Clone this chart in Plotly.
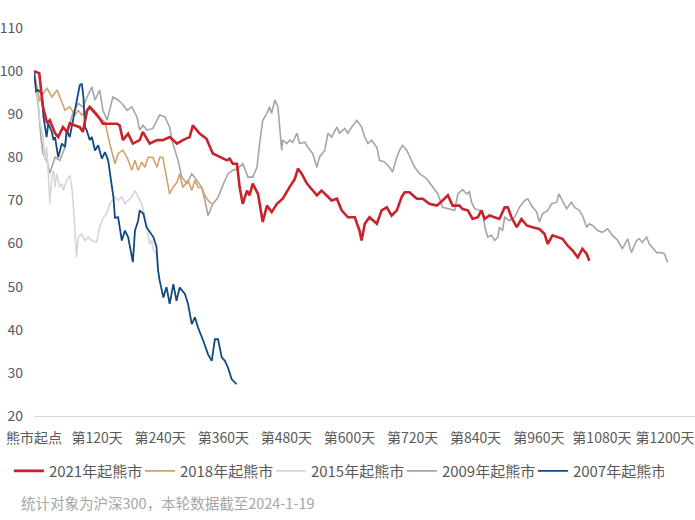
import plotly.graph_objects as go

# day index since the start of each bear market, and the rebased CSI 300 level (start = 100)
days_2021 = [0, 10, 17, 25, 30, 40, 46, 55, 63, 68, 78, 87, 93, 101, 106, 116, 125, 131, 144, 158,
             163, 169, 179, 188, 201, 207, 220, 234, 245, 258, 272, 283, 296, 302, 315, 328, 340, 353, 367, 372,
             378, 386, 391, 397, 405, 410, 416, 426, 435, 443, 452, 462, 473, 486, 496, 502, 509, 519, 528, 538,
             547, 557, 566, 576, 585, 597, 610, 619, 623, 629, 638, 652, 661, 671, 680, 690, 699, 705, 714, 728,
             739, 752, 766, 777, 787, 796, 809, 815, 825, 834, 844, 851, 857, 866, 876, 885, 895, 901, 908, 918,
             927, 937, 948, 961, 971, 977, 986, 996, 1005, 1015, 1024, 1034, 1043, 1051, 1056]
vals_2021 = [100, 99.5, 91.7, 87.9, 88.6, 85.6, 84.7, 87, 85.9, 87.9, 87.4, 87, 85.9, 90.9, 91.7, 90.2, 89, 87.8, 87.8, 87.8,
             87.4, 84, 85.5, 83.2, 84, 85.9, 83.2, 84, 84, 84.7, 83.2, 84, 84.7, 87.4, 85.5, 84.3, 80.9, 80.1, 79.3, 79.7,
             78.5, 78.5, 73.1, 69.2, 72.3, 71.2, 73.9, 71.5, 65, 68.8, 67.3, 69.2, 70.4, 73.1, 75, 77.4, 76.2, 73.9, 72.7, 71.2,
             72.3, 71.2, 70, 70.4, 67.7, 66.1, 66.1, 63, 60.7, 64.6, 66.1, 64.6, 67.7, 68.4, 66.5, 67.7, 70.8, 71.9, 71.9, 70.4,
             70.4, 69.2, 68.8, 70, 71.2, 68.8, 68.8, 68, 67.7, 65.7, 66.1, 67.7, 65.7, 66.5, 66.1, 65.7, 68.4, 68.4, 66.1, 63.8,
             65.7, 64.2, 63.8, 63.4, 62.2, 59.9, 61.9, 61.5, 61.1, 59.5, 58.4, 56.8, 58.8, 57.6, 56]

days_2018 = [0, 11, 17, 25, 34, 44, 49, 59, 68, 78, 84, 91, 101, 110, 120, 125, 135, 139, 144, 154,
             160, 169, 177, 186, 192, 198, 205, 211, 217, 226, 234, 239, 245, 253, 258, 264, 272, 277, 283, 293,
             300, 306, 312, 319, 325, 331, 338]
vals_2018 = [100, 93, 94.8, 96, 94, 95.6, 94, 90.9, 91.7, 89.8, 90.9, 89.8, 90.9, 91.4, 90.2, 89, 88.2, 85.9, 83.2, 78.5,
             80.9, 81.6, 80, 77, 79.3, 77, 78.9, 77.7, 80, 80, 77.7, 80, 80, 74.7, 71.5, 73, 74.2, 76.2, 73, 74.7,
             72.3, 74.7, 73, 73, 71.2, 70, 69.2]

days_2015 = [0, 8, 11, 18, 21, 24, 27, 30, 34, 37, 40, 43, 49, 53, 56, 62, 68, 72, 75, 78,
             81, 84, 91, 97, 103, 110, 119, 125, 132, 138, 144, 154, 160, 167, 173, 179, 186, 192, 198, 205,
             211, 217, 220, 224, 227, 233, 236]
vals_2015 = [100, 93.3, 88.6, 84, 79.3, 82.4, 77, 69.2, 75.4, 77, 73.1, 76.2, 73.1, 73.9, 72.3, 74.6, 75.8, 73.1, 68.4, 61.5,
             56.8, 61.5, 62.2, 60.7, 61.5, 60.7, 60.3, 63.8, 66.1, 66.9, 69.2, 70.8, 70, 70.8, 69.2, 70, 70.8, 72.3, 70.8, 69.2,
             66.1, 62.2, 59.9, 60.7, 58.4, 57.6, 53.7]

days_2009 = [0, 8, 13, 17, 25, 30, 40, 49, 59, 63, 68, 74, 84, 93, 101, 110, 116, 125, 131, 139,
             150, 160, 167, 177, 186, 196, 201, 207, 215, 226, 239, 249, 258, 264, 274, 281, 291, 300, 310, 319,
             325, 331, 340, 350, 359, 369, 378, 388, 397, 407, 416, 424, 429, 435, 443, 448, 452, 458, 464, 467,
             471, 473, 481, 486, 492, 500, 505, 515, 521, 530, 538, 543, 553, 559, 566, 576, 581, 591, 597, 604,
             614, 623, 629, 635, 642, 652, 657, 667, 676, 682, 690, 695, 701, 709, 718, 724, 733, 743, 749, 758,
             768, 777, 790, 800, 806, 815, 823, 828, 832, 838, 847, 853, 859, 863, 870, 876, 882, 885, 891, 895,
             904, 914, 923, 933, 939, 946, 956, 961, 967, 977, 984, 994, 998, 1005, 1013, 1022, 1028, 1037, 1043, 1051,
             1056, 1062, 1072, 1081, 1091, 1100, 1110, 1119, 1129, 1136, 1146, 1151, 1157, 1165, 1170, 1176, 1184, 1193, 1199, 1205]
vals_2009 = [100, 92, 85, 81, 79, 76.3, 80, 79.3, 82.3, 85.6, 87.8, 90.2, 92.5, 91.7, 94, 96.3, 93.3, 95.6, 90.9, 88.6,
             94, 93.3, 92.5, 90.9, 91.7, 89.3, 86.3, 87.4, 86.3, 86.7, 89.8, 89.4, 87, 83.2, 79.3, 75.4, 73.9, 76.2, 74.6, 73,
             70, 66.5, 69.2, 70.7, 73.5, 76.2, 77, 77.4, 78.5, 75.4, 75.4, 77.7, 83.2, 88.6, 90.2, 91.7, 90.2, 93.3, 91.7, 86.3,
             81.6, 84, 83.2, 84, 83.5, 85.6, 83.2, 83.5, 82.3, 80.9, 77.7, 80.1, 81.6, 85.6, 84.7, 87, 85.6, 86.7, 85.6, 87,
             88.6, 87, 84.7, 83.2, 84, 82.3, 79.3, 78.9, 77.7, 76.6, 80.1, 81.6, 82.8, 81.6, 79.3, 77.7, 76.2, 75.4, 74.7, 73.1,
             71.5, 68.4, 68.1, 67.7, 71.5, 72.5, 71.5, 72, 69.6, 68.1, 67.7, 66.9, 63, 61.5, 61.9, 60.7, 61.5, 63.8, 63, 66.1,
             65.3, 66.1, 68.4, 70, 70.4, 68.8, 67.3, 65, 66.9, 67.7, 69.2, 69.6, 71.5, 70, 68.1, 69.6, 68.4, 67.7, 66.5, 63.8,
             64.6, 64.2, 63, 62.6, 63.4, 61.9, 60.7, 58.8, 61.1, 57.9, 60.7, 61.1, 60.3, 61.5, 59.9, 59.1, 57.9, 57.9, 57.6, 55.6]

days_2007 = [0, 4, 8, 15, 18, 21, 24, 27, 34, 37, 40, 46, 53, 59, 62, 68, 75, 81, 87, 91,
             94, 97, 100, 106, 110, 116, 122, 129, 135, 141, 148, 151, 154, 160, 167, 173, 179, 188, 192, 198,
             201, 208, 214, 220, 227, 233, 236, 239, 246, 252, 258, 265, 271, 277, 287, 293, 300, 306, 312, 322,
             331, 338, 344, 350, 357, 363, 369, 376, 385]
vals_2007 = [100, 95.3, 95.6, 94.8, 89.4, 87, 84.7, 87.8, 85.9, 84, 84.7, 80, 83.2, 82.4, 86.3, 84.7, 89.4, 92.5, 96.7, 97.1,
             94, 87, 86.3, 84, 84.7, 81.6, 82.8, 79.7, 81.2, 79.3, 73.9, 70.8, 66, 66.1, 60.7, 63, 61.5, 55.7, 63, 65.3,
             67.7, 66.9, 63.8, 62.6, 61.5, 59.2, 53.7, 51.4, 47.5, 49.9, 46, 50.6, 46.7, 49.8, 48.3, 46, 41.3, 42.9, 40.5, 37.4,
             34.3, 32.8, 37.8, 37.8, 33.6, 32.8, 31.2, 28.5, 27.4]

tick_days = [0, 120, 240, 360, 480, 600, 720, 840, 960, 1080, 1200]
tick_text = ["熊市起点", "第120天", "第240天", "第360天", "第480天", "第600天",
             "第720天", "第840天", "第960天", "第1080天", "第1200天"]

FONT = "Noto Sans CJK SC, Noto Sans, sans-serif"

# drawing order (red on top); legend order via legendrank
series = [
    ("2009年起熊市", days_2009, vals_2009, "#A5A5A5", 1.6, 4),
    ("2015年起熊市", days_2015, vals_2015, "#D6D6D6", 1.6, 3),
    ("2018年起熊市", days_2018, vals_2018, "#D2A26E", 1.6, 2),
    ("2007年起熊市", days_2007, vals_2007, "#124A80", 1.8, 5),
    ("2021年起熊市", days_2021, vals_2021, "#C8232C", 2.6, 1),
]

fig = go.Figure()
for name, d, v, color, width, rank in series:
    fig.add_trace(go.Scatter(
        x=d, y=v, mode="lines", name=name,
        line=dict(color=color, width=width),
        legendrank=rank,
    ))

fig.update_layout(
    template="none",
    width=695, height=520,
    margin=dict(l=34, r=0, t=28, b=104),
    paper_bgcolor="white", plot_bgcolor="white",
    font=dict(family=FONT, size=15, color="#595959"),
    showlegend=True,
    legend=dict(
        orientation="h", x=-0.038, xanchor="left", y=-0.142, yanchor="middle",
        entrywidth=86, entrywidthmode="pixels",
        font=dict(size=15, color="#595959"),
        traceorder="normal",
    ),
    xaxis=dict(
        range=[0, 1257], tickvals=tick_days, ticktext=tick_text, tickangle=0,
        showgrid=False, zeroline=False, showline=True, linecolor="#D9D9D9", linewidth=1,
        ticks="", ticklabelstandoff=9, ticklabeloverflow="allow", automargin=False,
        tickfont=dict(size=14, color="#595959"),
    ),
    yaxis=dict(
        range=[20, 110], dtick=10, tick0=20,
        showgrid=False, zeroline=False, showline=False,
        ticks="", ticklabelstandoff=10, automargin=False,
        tickfont=dict(size=14, color="#595959"),
    ),
    annotations=[dict(
        text="统计对象为沪深300，本轮数据截至2024-1-19",
        xref="paper", yref="paper", x=-0.022, y=-0.224,
        xanchor="left", yanchor="middle", showarrow=False,
        font=dict(size=14.5, color="#A6A6A6"),
    )],
)

# drop the browser's default 8px body margin so the figure sits at the page corner
fig.write_html("out.html", config={"displayModeBar": False},
               post_script="document.body.style.margin = '0px';")
